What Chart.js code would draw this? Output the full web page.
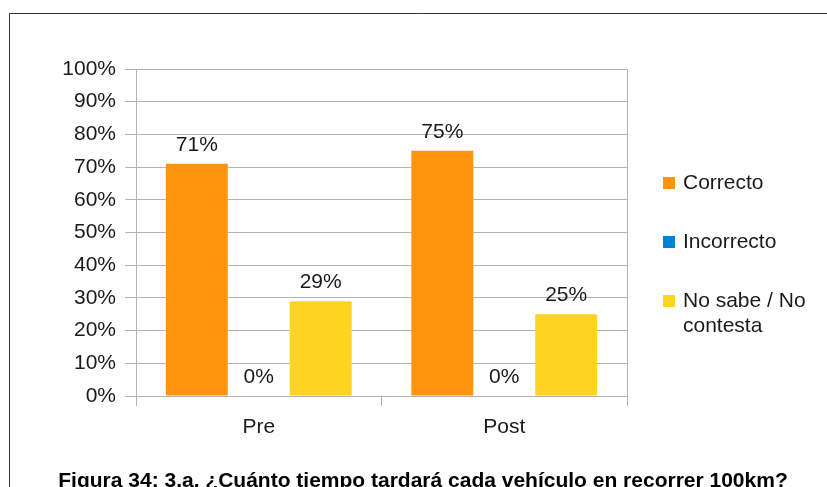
<!DOCTYPE html>
<html>
<head>
<meta charset="utf-8">
<script src="https://cdn.jsdelivr.net/npm/chart.js@4"></script>
<style>
  html, body { margin: 0; padding: 0; background: #fff; overflow: hidden; }
  #wrap { width: 827px; height: 487px; }
</style>
</head>
<body>
<div id="wrap"><canvas id="chart"></canvas></div>
<script>
// Data
const groups = ['Pre', 'Post'];
const seriesNames = ['Correcto', 'Incorrecto', 'No sabe / No contesta'];
const correcto = [71, 75];
const incorrecto = [0, 0];
const noSabe = [29, 25];
const yTicks = [0, 10, 20, 30, 40, 50, 60, 70, 80, 90, 100];
const figureTitle = 'Figura 34: 3.a. ¿Cuánto tiempo tardará cada vehículo en recorrer 100km?';

const colors = ['#ff950e', '#0084d1', '#ffd320'];
const gridColor = '#b3b3b3';
const FONT = 'Liberation Sans, Arial, sans-serif';

// Value labels above each bar, legend on the right, frame and caption
const extras = {
  id: 'extras',
  afterDatasetsDraw(chart) {
    const ctx = chart.ctx;
    const area = chart.chartArea;
    ctx.save();

    // right edge of the plot
    ctx.strokeStyle = gridColor;
    ctx.lineWidth = 1;
    ctx.beginPath();
    ctx.moveTo(Math.round(area.right) + 0.5, area.top);
    ctx.lineTo(Math.round(area.right) + 0.5, area.bottom);
    ctx.stroke();

    // value labels
    ctx.font = '21px ' + FONT;
    ctx.fillStyle = '#1a1a1a';
    ctx.textAlign = 'center';
    ctx.textBaseline = 'middle';
    chart.data.datasets.forEach((ds, i) => {
      chart.getDatasetMeta(i).data.forEach((bar, j) => {
        ctx.fillText(ds.data[j] + '%', bar.x, bar.y - 19);
      });
    });

    // legend
    const legendLines = [['Correcto'], ['Incorrecto'], ['No sabe / No', 'contesta']];
    const legendY = [183, 242, 301];
    ctx.textAlign = 'left';
    legendLines.forEach((lines, i) => {
      ctx.fillStyle = colors[i];
      ctx.fillRect(663, legendY[i] - 6, 12, 12);
      ctx.fillStyle = '#1a1a1a';
      lines.forEach((t, k) => ctx.fillText(t, 683, legendY[i] + k * 25));
    });

    // outer frame (left and top edges)
    ctx.strokeStyle = '#333';
    ctx.beginPath();
    ctx.moveTo(9.5, chart.height);
    ctx.lineTo(9.5, 13.5);
    ctx.lineTo(chart.width, 13.5);
    ctx.stroke();

    // caption
    ctx.font = 'bold 21px ' + FONT;
    ctx.fillStyle = '#000';
    ctx.textAlign = 'center';
    ctx.textBaseline = 'alphabetic';
    ctx.fillText(figureTitle, 423, 487);
    ctx.restore();
  }
};

new Chart(document.getElementById('chart'), {
  type: 'bar',
  data: {
    labels: groups,
    datasets: [
      { label: seriesNames[0], data: correcto, backgroundColor: colors[0] },
      { label: seriesNames[1], data: incorrecto, backgroundColor: colors[1] },
      { label: seriesNames[2], data: noSabe, backgroundColor: colors[2] }
    ]
  },
  options: {
    responsive: true,
    maintainAspectRatio: false,
    animation: false,
    events: [],
    layout: { padding: { top: 69, right: 200, bottom: 0, left: 0 } },
    datasets: { bar: { categoryPercentage: 0.757, barPercentage: 1 } },
    plugins: { legend: { display: false }, title: { display: false }, tooltip: { enabled: false } },
    scales: {
      x: {
        offset: true,
        grid: { offset: true, drawOnChartArea: false, color: gridColor, tickLength: 10 },
        border: { color: gridColor },
        ticks: { color: '#1a1a1a', font: { family: FONT, size: 21 }, padding: 9 },
        afterFit(scale) { scale.height = 91; }
      },
      y: {
        min: 0,
        max: 100,
        afterBuildTicks(scale) { scale.ticks = yTicks.map(v => ({ value: v })); },
        grid: { color: gridColor, tickLength: 11 },
        border: { color: gridColor },
        ticks: {
          color: '#1a1a1a',
          font: { family: FONT, size: 21 },
          padding: 9,
          callback: v => v + '%'
        },
        afterFit(scale) { scale.width = 136; }
      }
    }
  },
  plugins: [extras]
});
</script>
</body>
</html>
